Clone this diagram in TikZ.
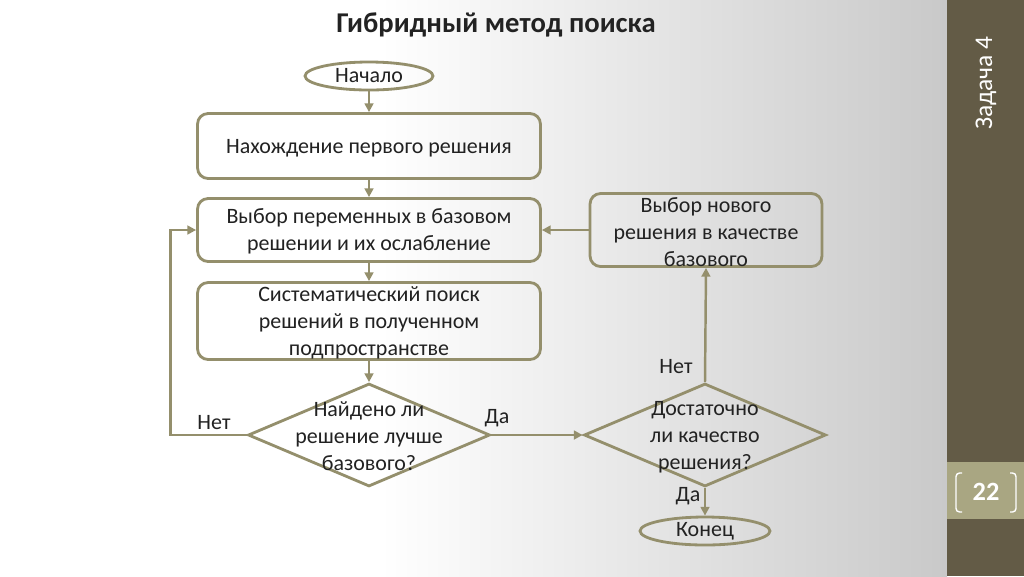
\documentclass[tikz,border=0pt]{standalone}
\usepackage{fontspec}
\setmainfont{Carlito}
\usetikzlibrary{positioning, shapes.geometric, arrows.meta, calc}
\definecolor{zline}{HTML}{948F6C}
\definecolor{zside}{HTML}{635B46}
\definecolor{zpage}{HTML}{A9A682}
\definecolor{zshade}{HTML}{C9C9C9}
\definecolor{ztext}{HTML}{222222}

\tikzset{
  blok/.style={draw=zline, line width=1.6pt, rounded corners=6pt, inner sep=0pt},
  okno/.style={draw=zline, line width=1.6pt, ellipse, inner sep=0pt},
  romb/.style={draw=zline, line width=1.6pt, diamond, inner sep=0pt},
  txt/.style={text=ztext, align=center, font=\fontsize{12.5}{15.3}\selectfont},
  strelka/.style={draw=zline, line width=1.4pt, -{Triangle[length=5pt,width=5pt]}}
}

\begin{document}
\begin{tikzpicture}[x=0.02cm, y=-0.02cm]
      \useasboundingbox (0,0) rectangle (1024,576);
      % background and side bar
      \fill[white] (0,0) rectangle (947,576);
      \shade[left color=white, right color=zshade] (380,0) rectangle (947,576);
      \fill[zside] (947,0) rectangle (1024,576);
      \fill[zpage] (947,462) rectangle (1024,519);
      \draw[white, line width=0.8pt, rounded corners=2pt] (962,473) -- (956,473) -- (956,512) -- (962,512);
      \draw[white, line width=0.8pt, rounded corners=2pt] (1010,473) -- (1016,473) -- (1016,512) -- (1010,512);
      \node[white, font=\bfseries\fontsize{15}{18}\selectfont] (pg) at (986,492) {22};
      \node[white, rotate=90, font=\fontsize{14.5}{17}\selectfont] (zad) at (986,83) {Задача 4};

      \node[text=ztext, font=\bfseries\fontsize{16.3}{20}\selectfont] (title) at (496,25) {Гибридный метод поиска};

      % shapes
      \node[okno, minimum width=2.56cm, minimum height=0.56cm] (start) at (369,76) {};
      \node[blok, minimum width=6.86cm, minimum height=1.30cm] (b1) at (369,146) {};
      \node[blok, minimum width=6.86cm, minimum height=1.26cm] (b2) at (369,230) {};
      \node[blok, minimum width=6.86cm, minimum height=1.54cm] (b3) at (369,321) {};
      \node[romb, minimum width=4.84cm, minimum height=2.06cm] (d1) at (369,435) {};
      \node[romb, minimum width=4.84cm, minimum height=2.06cm] (d2) at (705,435) {};
      \node[blok, minimum width=4.64cm, minimum height=1.46cm] (b4) at (706,230) {};
      \node[okno, minimum width=2.60cm, minimum height=0.56cm] (end) at (705,531) {};

      % texts
      \node[txt] (startt) at (start) {Начало};
      \node[txt] (b1t) at ($(b1)+(0,2)$) {Нахождение первого решения};
      \node[txt] (b2t) at ($(b2)+(0,1)$) {Выбор переменных в базовом\\решении и их ослабление};
      \node[txt] (b3t) at ($(b3)+(0,2)$) {Систематический поиск\\решений в полученном\\подпространстве};
      \node[txt] (d1t) at ($(d1)+(0,1)$) {Найдено ли\\решение лучше\\базового?};
      \node[txt] (d2t) at ($(d2)+(0,2)$) {Достаточно\\ли качество\\решения?};
      \node[txt] (b4t) at ($(b4)+(0,2)$) {Выбор нового\\решения в качестве\\базового};
      \node[txt] (endt) at (end) {Конец};

      \node[txt] (net1) at (214,423) {Нет};
      \node[txt] (da1) at (497,418) {Да};
      \node[txt] (net2) at (676,367) {Нет};
      \node[txt] (da2) at (688,496) {Да};

      % connectors
      \draw[strelka] (start) -- (b1);
      \draw[strelka] (b1) -- (b2);
      \draw[strelka] (b2) -- (b3);
      \draw[strelka] (b3) -- (d1);
      \draw[strelka] (d1.west) -- ++(-76,0) |- (b2.west);
      \draw[strelka] (d1.east) -- (d2.west);
      \draw[strelka] (d2.north) -- (b4.south);
      \draw[strelka] (b4.west) -- (b2.east);
      \draw[strelka] (d2.south) -- (end.north);
    \end{tikzpicture}
\end{document}
